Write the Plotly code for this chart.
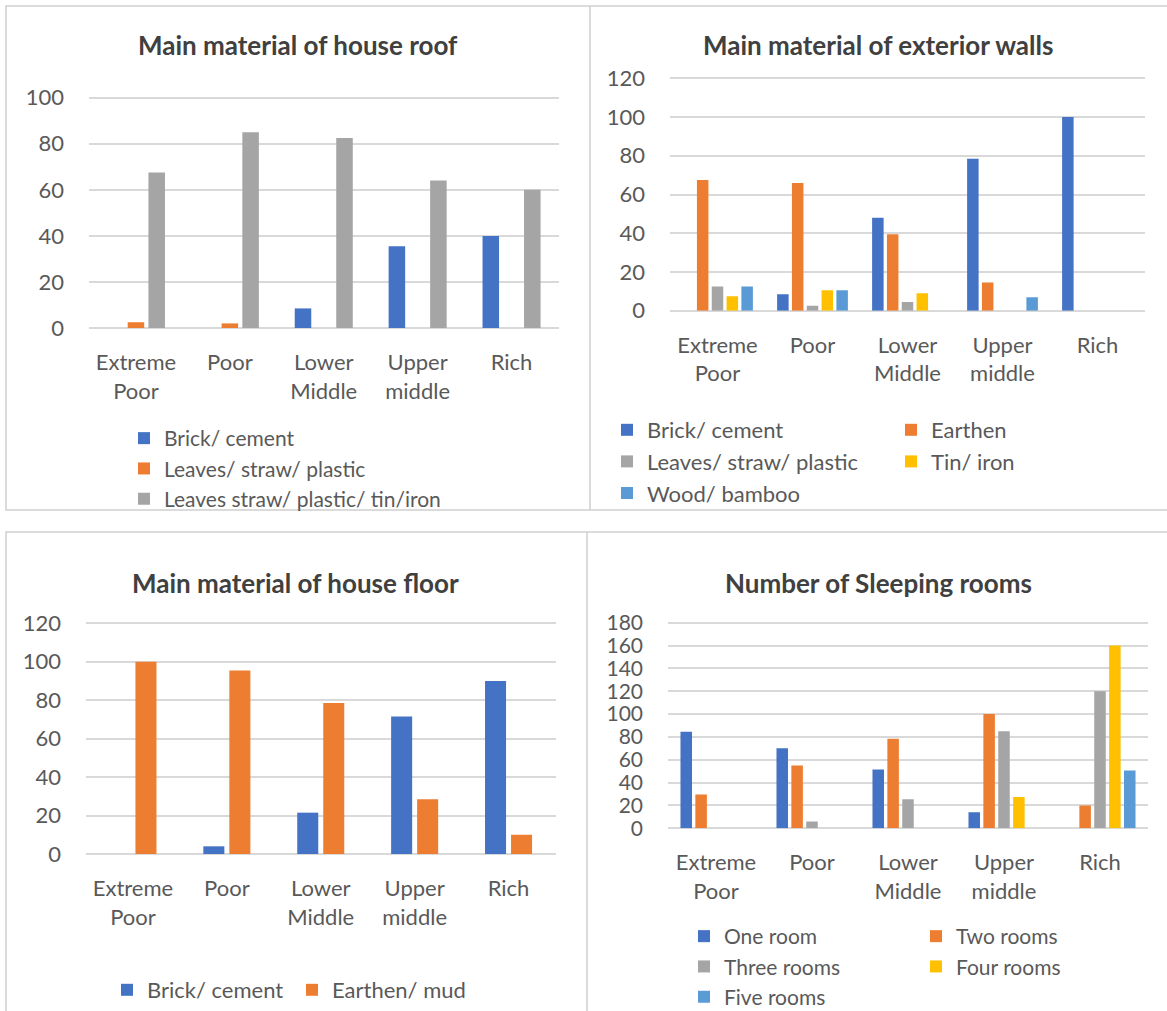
import plotly.graph_objects as go

W, H = 1167, 1011

# Wealth groups along every x axis
categories = ["Extreme<br>Poor", "Poor", "Lower<br>Middle", "Upper<br>middle", "Rich"]

# Main material of house roof (%)
roof_brick_cement = [0, 0, 8.5, 35.5, 40]
roof_leaves_straw_plastic = [2.5, 2, 0, 0, 0]
roof_leaves_tin_iron = [67.5, 85, 82.5, 64, 60]

# Main material of exterior walls (%)
walls_brick_cement = [0, 8.5, 48, 78.5, 100]
walls_earthen = [67.5, 66, 39.5, 14.5, 0]
walls_leaves_straw_plastic = [12.5, 2.5, 4.5, 0, 0]
walls_tin_iron = [7.5, 10.5, 9, 0, 0]
walls_wood_bamboo = [12.5, 10.5, 0, 7, 0]

# Main material of house floor (%)
floor_brick_cement = [0, 4, 21.5, 71.5, 90]
floor_earthen_mud = [100, 95.5, 78.5, 28.5, 10]

# Number of sleeping rooms
rooms_one = [84.5, 70, 51.5, 14, 0]
rooms_two = [29.5, 55, 78.5, 100, 20]
rooms_three = [0, 6, 25.5, 85, 120]
rooms_four = [0, 0, 0, 27.5, 160]
rooms_five = [0, 0, 0, 0, 50.5]

BLUE = "#4472C4"
ORANGE = "#ED7D31"
GRAY = "#A5A5A5"
GOLD = "#FFC000"
SKY = "#5B9BD5"

FONT = "Lato"
TEXT = "#595959"
GRID = "#d9d9d9"
FRAME = "#cfcfcf"


def fx(px):
    return px / W


def fy(py):
    return 1 - py / H


panels = [
    dict(title="Main material of house roof", tx=298, ty=45,
         xpx=(89, 558.5), ypx=(97.7, 328), ymax=100, pitch=0.221, bw=0.176, ytick=22,
         series=[("Brick/ cement", roof_brick_cement, BLUE, "legend"),
                 ("Leaves/ straw/ plastic", roof_leaves_straw_plastic, ORANGE, "legend"),
                 ("Leaves straw/ plastic/ tin/iron", roof_leaves_tin_iron, GRAY, "legend")]),
    dict(title="Main material of exterior walls", tx=878, ty=45,
         xpx=(670, 1145), ypx=(78.3, 310.7), ymax=120, pitch=0.156, bw=0.121, ytick=22,
         series=[("Brick/ cement", walls_brick_cement, BLUE, "legend2"),
                 ("Earthen", walls_earthen, ORANGE, "legend3"),
                 ("Leaves/ straw/ plastic", walls_leaves_straw_plastic, GRAY, "legend2"),
                 ("Tin/ iron", walls_tin_iron, GOLD, "legend3"),
                 ("Wood/ bamboo", walls_wood_bamboo, SKY, "legend2")]),
    dict(title="Main material of house floor", tx=295, ty=583,
         xpx=(86, 555.5), ypx=(623.3, 854), ymax=120, pitch=0.277, bw=0.224, ytick=22,
         series=[("Brick/ cement", floor_brick_cement, BLUE, "legend4"),
                 ("Earthen/ mud", floor_earthen_mud, ORANGE, "legend4")]),
    dict(title="Number of Sleeping rooms", tx=878, ty=583,
         xpx=(668, 1148), ypx=(622.7, 828.3), ymax=180, pitch=0.155, bw=0.12, ytick=21,
         series=[("One room", rooms_one, BLUE, "legend5"),
                 ("Two rooms", rooms_two, ORANGE, "legend6"),
                 ("Three rooms", rooms_three, GRAY, "legend5"),
                 ("Four rooms", rooms_four, GOLD, "legend6"),
                 ("Five rooms", rooms_five, SKY, "legend5")]),
]

fig = go.Figure()
layout = dict(
    width=W, height=H,
    margin=dict(l=0, r=0, t=0, b=0, autoexpand=False),
    paper_bgcolor="white", plot_bgcolor="white",
    barmode="overlay",
    font=dict(family=FONT, color=TEXT, size=22),
    annotations=[], shapes=[],
)

for i, p in enumerate(panels, start=1):
    sx = "" if i == 1 else str(i)
    n = len(p["series"])
    for k, (name, vals, color, leg) in enumerate(p["series"]):
        centre = (k - (n - 1) / 2) * p["pitch"]
        fig.add_trace(go.Bar(
            x=categories, y=vals, name=name, legend=leg,
            marker=dict(color=color, line=dict(width=0)),
            width=p["bw"], offset=centre - p["bw"] / 2,
            xaxis="x" + sx, yaxis="y" + sx,
        ))
    # leave a couple of pixels of headroom so the top gridline is not clipped
    top_px, zero_px = p["ypx"]
    per_px = p["ymax"] / (zero_px - top_px)
    head = 2
    layout["xaxis" + sx] = dict(
        domain=[fx(p["xpx"][0]), fx(p["xpx"][1])], anchor="y" + sx,
        type="category", showgrid=False, showline=False, zeroline=False,
        ticks="", tickfont=dict(family=FONT, size=22, color=TEXT),
        ticklabelstandoff=19, automargin=False, fixedrange=True,
    )
    layout["yaxis" + sx] = dict(
        domain=[fy(zero_px), fy(top_px - head)], anchor="x" + sx,
        range=[0, p["ymax"] + head * per_px], dtick=20, tick0=0,
        showgrid=True, gridcolor=GRID, gridwidth=1.5,
        zeroline=True, zerolinecolor=GRID, zerolinewidth=1.5,
        showline=False, ticks="",
        tickfont=dict(family=FONT, size=p["ytick"], color=TEXT),
        ticklabelstandoff=24, automargin=False, fixedrange=True,
    )
    layout["annotations"].append(dict(
        text="<b>" + p["title"] + "</b>", x=fx(p["tx"]), y=fy(p["ty"]),
        xref="paper", yref="paper", xanchor="center", yanchor="middle",
        showarrow=False, font=dict(family=FONT, size=26, color="#404040"),
    ))


def legend_box(xpx, ypx, size, orientation="v", **extra):
    d = dict(x=fx(xpx), y=fy(ypx), xanchor="left", yanchor="top",
             orientation=orientation, font=dict(family=FONT, size=size, color=TEXT),
             bgcolor="rgba(0,0,0,0)", borderwidth=0, traceorder="normal",
             itemclick=False, itemdoubleclick=False)
    d.update(extra)
    return d


layout["legend"] = legend_box(124, 418, 21)
layout["legend2"] = legend_box(607, 409, 22)
layout["legend3"] = legend_box(891, 409, 22)
layout["legend4"] = legend_box(107, 969, 22, orientation="h", entrywidth=140)
layout["legend5"] = legend_box(684, 916, 21)
layout["legend6"] = legend_box(916, 916, 21)

# Panel frames: two framed rows, each split into two charts
frame = dict(type="rect", xref="paper", yref="paper",
             line=dict(color=FRAME, width=1.5), fillcolor="rgba(0,0,0,0)", layer="below")
layout["shapes"] += [
    dict(frame, x0=fx(6), x1=fx(1180), y0=fy(510), y1=fy(6)),
    dict(frame, x0=fx(6), x1=fx(1180), y0=fy(1030), y1=fy(532)),
    dict(type="line", xref="paper", yref="paper", x0=fx(590), x1=fx(590),
         y0=fy(510), y1=fy(6), line=dict(color=FRAME, width=1.5)),
    dict(type="line", xref="paper", yref="paper", x0=fx(587), x1=fx(587),
         y0=fy(1030), y1=fy(532), line=dict(color=FRAME, width=1.5)),
]

fig.update_layout(**layout)
fig.write_html("out.html")
